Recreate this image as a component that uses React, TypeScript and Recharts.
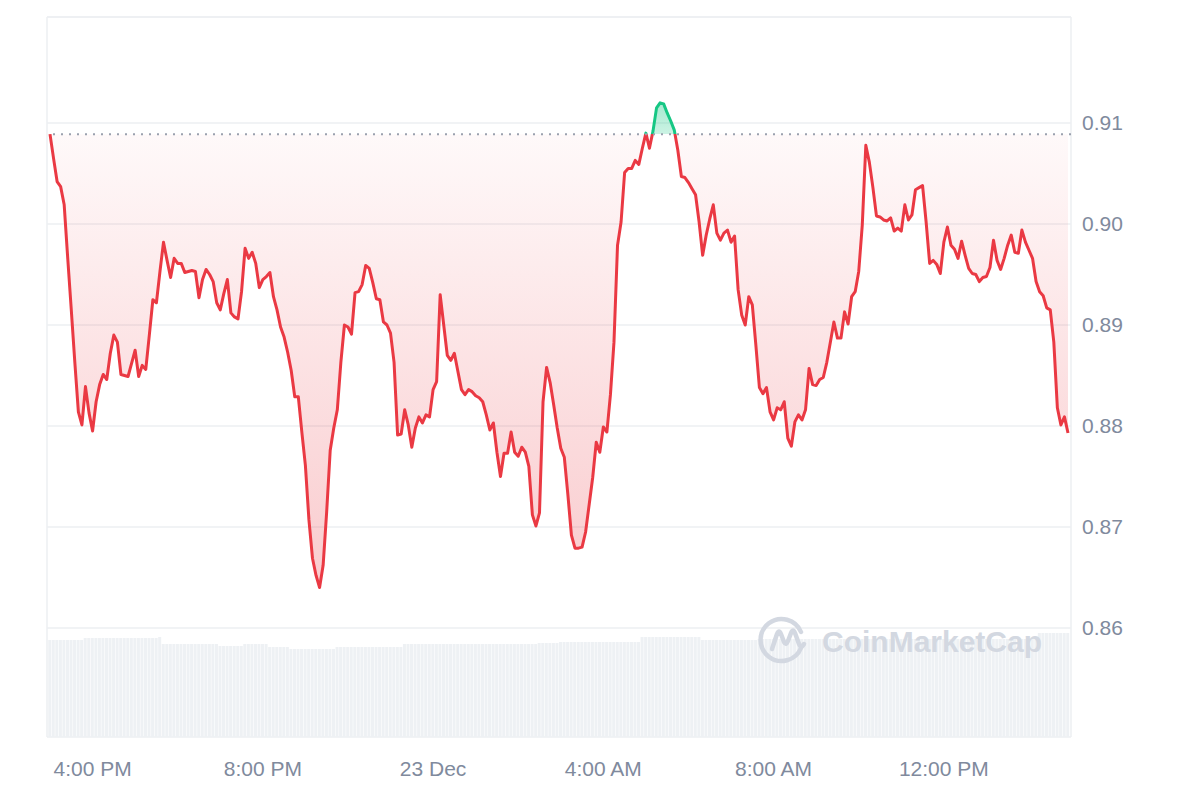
import React from "react"
import { ComposedChart, Area, Bar, XAxis, YAxis, CartesianGrid, ReferenceLine } from "recharts"

// 5-minute closes, 3:00 PM (22 Dec) to 2:55 PM (23 Dec), one row per hour
const prices = [
    0.9089, 0.9065, 0.9042, 0.9037, 0.9019, 0.8966, 0.8915, 0.8863, 0.8814, 0.8801, 0.8839, 0.8813,
    0.8795, 0.8824, 0.8841, 0.8851, 0.8846, 0.8872, 0.8890, 0.8883, 0.8851, 0.8850, 0.8849, 0.8862,
    0.8875, 0.8849, 0.8860, 0.8856, 0.8890, 0.8925, 0.8922, 0.8953, 0.8982, 0.8964, 0.8947, 0.8966,
    0.8961, 0.8961, 0.8952, 0.8953, 0.8954, 0.8953, 0.8927, 0.8945, 0.8955, 0.8950, 0.8943, 0.8922,
    0.8915, 0.8931, 0.8945, 0.8912, 0.8908, 0.8906, 0.8933, 0.8976, 0.8966, 0.8972, 0.8961, 0.8937,
    0.8945, 0.8948, 0.8952, 0.8928, 0.8915, 0.8898, 0.8888, 0.8873, 0.8855, 0.8829, 0.8829, 0.8794,
    0.8761, 0.8707, 0.8669, 0.8652, 0.8640, 0.8662, 0.8715, 0.8776, 0.8798, 0.8816, 0.8863, 0.8900,
    0.8898, 0.8891, 0.8932, 0.8933, 0.8940, 0.8959, 0.8956, 0.8942, 0.8926, 0.8925, 0.8903, 0.8900,
    0.8892, 0.8863, 0.8791, 0.8792, 0.8816, 0.8801, 0.8779, 0.8798, 0.8809, 0.8803, 0.8811, 0.8809,
    0.8836, 0.8844, 0.8930, 0.8900, 0.8870, 0.8865, 0.8872, 0.8854, 0.8836, 0.8831, 0.8836, 0.8834,
    0.8830, 0.8828, 0.8824, 0.8811, 0.8796, 0.8803, 0.8774, 0.8750, 0.8773, 0.8773, 0.8794, 0.8774,
    0.8770, 0.8779, 0.8774, 0.8760, 0.8712, 0.8701, 0.8714, 0.8824, 0.8858, 0.8843, 0.8821, 0.8798,
    0.8778, 0.8769, 0.8732, 0.8692, 0.8679, 0.8679, 0.8680, 0.8695, 0.8722, 0.8749, 0.8784, 0.8774,
    0.8799, 0.8794, 0.8831, 0.8883, 0.8979, 0.9002, 0.9051, 0.9055, 0.9055, 0.9063, 0.9059, 0.9075,
    0.9090, 0.9075, 0.9092, 0.9115, 0.9120, 0.9119, 0.9110, 0.9102, 0.9093, 0.9073, 0.9047, 0.9046,
    0.9041, 0.9035, 0.9029, 0.9002, 0.8969, 0.8989, 0.9005, 0.9019, 0.8991, 0.8984, 0.8991, 0.8994,
    0.8982, 0.8988, 0.8935, 0.8910, 0.8900, 0.8928, 0.8920, 0.8880, 0.8838, 0.8832, 0.8838, 0.8814,
    0.8806, 0.8818, 0.8816, 0.8824, 0.8788, 0.8780, 0.8804, 0.8811, 0.8806, 0.8816, 0.8857, 0.8841,
    0.8840, 0.8846, 0.8848, 0.8863, 0.8883, 0.8903, 0.8887, 0.8887, 0.8913, 0.8901, 0.8928, 0.8933,
    0.8953, 0.8999, 0.9078, 0.9061, 0.9036, 0.9008, 0.9007, 0.9004, 0.9003, 0.9006, 0.8993, 0.8996,
    0.8993, 0.9019, 0.9004, 0.9009, 0.9034, 0.9036, 0.9038, 0.9002, 0.8961, 0.8964, 0.8960, 0.8951,
    0.8982, 0.8997, 0.8979, 0.8975, 0.8966, 0.8983, 0.8969, 0.8956, 0.8951, 0.8950, 0.8943, 0.8947,
    0.8948, 0.8957, 0.8984, 0.8964, 0.8955, 0.8966, 0.8979, 0.8989, 0.8972, 0.8971, 0.8994, 0.8982,
    0.8974, 0.8966, 0.8943, 0.8933, 0.8929, 0.8917, 0.8915, 0.8883, 0.8818, 0.8801, 0.8809, 0.8793,
]

// volume per 5-minute bar (relative units), one row per hour
const volumes = [
    9.7, 9.7, 9.7, 9.7, 9.7, 9.7, 9.7, 9.7, 9.7, 9.7, 9.9, 9.9,
    9.9, 9.9, 9.9, 9.9, 9.9, 9.9, 9.9, 9.9, 9.9, 9.9, 9.9, 9.9,
    9.9, 9.9, 9.9, 9.9, 9.9, 9.9, 9.9, 10.0, 9.3, 9.3, 9.3, 9.3,
    9.3, 9.3, 9.3, 9.3, 9.3, 9.3, 9.3, 9.3, 9.3, 9.3, 9.3, 9.3,
    9.1, 9.1, 9.1, 9.1, 9.1, 9.1, 9.1, 9.3, 9.3, 9.3, 9.3, 9.3,
    9.3, 9.3, 9.0, 9.0, 9.0, 9.0, 9.0, 9.0, 8.8, 8.8, 8.8, 8.8,
    8.8, 8.8, 8.8, 8.8, 8.8, 8.8, 8.8, 8.8, 8.8, 9.0, 9.0, 9.0,
    9.0, 9.0, 9.0, 9.0, 9.0, 9.0, 9.0, 9.0, 9.0, 9.0, 9.0, 9.0,
    9.0, 9.0, 9.0, 9.0, 9.3, 9.3, 9.3, 9.3, 9.3, 9.3, 9.3, 9.3,
    9.3, 9.3, 9.3, 9.3, 9.3, 9.3, 9.3, 9.3, 9.3, 9.3, 9.3, 9.3,
    9.3, 9.3, 9.3, 9.3, 9.3, 9.3, 9.3, 9.3, 9.3, 9.3, 9.3, 9.3,
    9.3, 9.3, 9.3, 9.3, 9.3, 9.3, 9.4, 9.4, 9.4, 9.4, 9.4, 9.4,
    9.5, 9.5, 9.5, 9.5, 9.5, 9.5, 9.5, 9.5, 9.5, 9.5, 9.5, 9.5,
    9.5, 9.5, 9.5, 9.5, 9.5, 9.5, 9.5, 9.5, 9.5, 9.5, 9.5, 10.0,
    10.0, 10.0, 10.0, 10.0, 10.0, 10.0, 10.0, 10.0, 10.0, 10.0, 10.0, 10.0,
    10.0, 10.0, 10.0, 10.0, 9.7, 9.7, 9.7, 9.7, 9.7, 9.7, 9.7, 9.7,
    9.7, 9.7, 9.7, 9.7, 9.7, 9.7, 9.7, 9.7, 9.8, 9.8, 9.8, 9.8,
    9.8, 9.8, 9.8, 9.8, 9.8, 9.8, 9.8, 9.8, 9.8, 9.8, 9.8, 9.8,
    9.8, 9.8, 9.8, 9.8, 9.8, 9.8, 9.8, 9.8, 9.8, 9.8, 9.8, 9.8,
    9.8, 9.8, 9.8, 9.8, 9.8, 9.8, 9.8, 9.8, 9.8, 9.8, 9.8, 9.8,
    9.8, 9.8, 9.8, 9.8, 9.8, 9.8, 9.8, 9.8, 9.8, 9.8, 9.8, 9.8,
    9.8, 9.8, 9.8, 9.8, 9.8, 9.8, 9.8, 9.8, 9.8, 9.8, 9.8, 9.8,
    9.8, 9.8, 9.8, 9.8, 9.8, 9.8, 9.8, 9.8, 9.8, 9.8, 9.8, 9.8,
    9.8, 9.8, 9.8, 10.4, 10.4, 10.4, 10.4, 10.4, 10.4, 10.4, 10.4, 10.4,
]

// minutes from 4:00 PM on 22 Dec
const timeTicks = [0, 240, 480, 720, 960, 1200]
const timeLabels = ["4:00 PM", "8:00 PM", "23 Dec", "4:00 AM", "8:00 AM", "12:00 PM"]
const priceTicks = [0.86, 0.87, 0.88, 0.89, 0.9, 0.91]

const FIRST_MINUTE = -60
const STEP = 5

const RED = "#ea3943"
const GREEN = "#16c784"
const AXIS_TEXT = "#808a9d"
const GRID = "#eceff2"
const FONT = "'Liberation Sans', Arial, sans-serif"

const data = prices.map((price, i) => ({
    t: FIRST_MINUTE + i * STEP,
    price,
    vol: volumes[i],
}))

const openPrice = prices[0]
const maxPrice = Math.max(...prices)
const minPrice = Math.min(...prices)
const splitOffset = (maxPrice - openPrice) / (maxPrice - minPrice)

function Watermark() {
    return (
        <svg
            width={300}
            height={60}
            style={{ position: "absolute", left: 755, top: 610, pointerEvents: "none" }}
        >
            <g fill="none" stroke="#d3d8e1" strokeWidth={4.5} strokeLinecap="round" strokeLinejoin="round">
                <path d="M 46 22 A 21 21 0 1 0 46 38" />
                <path d="M 17 39 L 22 24 Q 24 19 26 24 L 29 32 Q 31 36 33 31 L 36 23 Q 38 18 40 23 L 44 34 Q 46 39 49 34" />
            </g>
            <text
                x={67}
                y={42}
                fill="#d3d8e1"
                fontFamily="'Liberation Sans', Arial, sans-serif"
                fontWeight={700}
                fontSize={30}
            >
                CoinMarketCap
            </text>
        </svg>
    )
}

export default function App() {
    return (
        <div style={{ position: "absolute", left: 0, top: 0, width: 1200, height: 800, background: "#fff" }}>
            <ComposedChart
                width={1200}
                height={800}
                data={data}
                margin={{ top: 17, right: 0, left: 47, bottom: 0 }}
            >
                <defs>
                    <linearGradient id="fillSplit" x1="0" y1="0" x2="0" y2="1">
                        <stop offset={0} stopColor={GREEN} stopOpacity={0.38} />
                        <stop offset={splitOffset} stopColor={GREEN} stopOpacity={0.22} />
                        <stop offset={splitOffset} stopColor={RED} stopOpacity={0.03} />
                        <stop offset={1} stopColor={RED} stopOpacity={0.26} />
                    </linearGradient>
                    <linearGradient id="lineSplit" x1="0" y1="0" x2="0" y2="1">
                        <stop offset={0} stopColor={GREEN} />
                        <stop offset={splitOffset} stopColor={GREEN} />
                        <stop offset={splitOffset} stopColor={RED} />
                        <stop offset={1} stopColor={RED} />
                    </linearGradient>
                </defs>

                <CartesianGrid yAxisId="price" vertical={false} stroke={GRID} strokeWidth={1.5} />
                <CartesianGrid
                    yAxisId="price"
                    stroke={GRID}
                    strokeWidth={1.5}
                    horizontalCoordinatesGenerator={({ offset }) => [offset.top]}
                    verticalCoordinatesGenerator={({ offset }) => [offset.left, offset.left + offset.width]}
                />

                <XAxis
                    dataKey="t"
                    type="number"
                    domain={["dataMin", "dataMax"]}
                    padding={{ left: 3, right: 3 }}
                    ticks={timeTicks}
                    tickFormatter={(v) => timeLabels[timeTicks.indexOf(v)]}
                    interval={0}
                    axisLine={false}
                    tickLine={false}
                    height={63}
                    tickMargin={18}
                    tick={{ fill: AXIS_TEXT, fontSize: 21, fontFamily: FONT }}
                />
                <YAxis
                    yAxisId="price"
                    orientation="right"
                    domain={[0.8492, 0.9205]}
                    ticks={priceTicks}
                    allowDataOverflow
                    tickFormatter={(v) => v.toFixed(2)}
                    axisLine={false}
                    tickLine={false}
                    width={129}
                    tickMargin={5}
                    tick={{ fill: AXIS_TEXT, fontSize: 21, fontFamily: FONT, textAnchor: "start" }}
                />
                <YAxis yAxisId="vol" hide domain={[0, 72]} />

                <Bar yAxisId="vol" dataKey="vol" fill="#eef1f4" barSize={3} isAnimationActive={false} />

                <Area
                    yAxisId="price"
                    type="linear"
                    dataKey="price"
                    baseValue={openPrice}
                    stroke="url(#lineSplit)"
                    strokeWidth={3}
                    strokeLinejoin="round"
                    fill="url(#fillSplit)"
                    fillOpacity={1}
                    dot={false}
                    activeDot={false}
                    isAnimationActive={false}
                />

                <ReferenceLine
                    yAxisId="price"
                    y={openPrice}
                    stroke="#9aa1ae"
                    strokeWidth={2}
                    strokeDasharray="2 6"
                />
            </ComposedChart>
            <Watermark />
        </div>
    )
}
